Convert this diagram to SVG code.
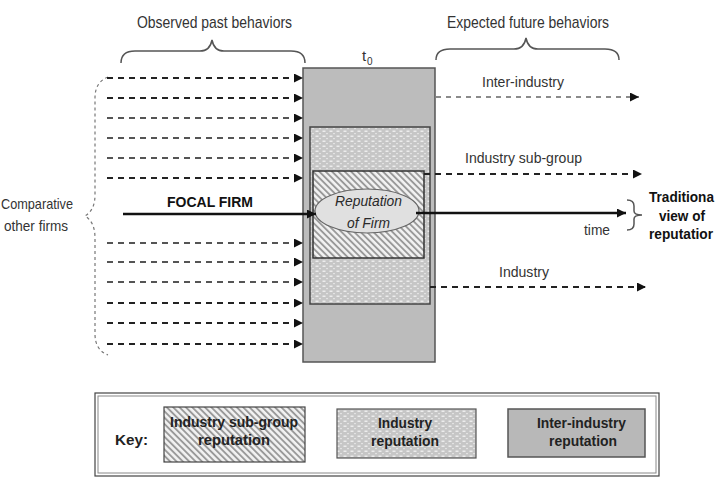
<svg xmlns="http://www.w3.org/2000/svg" width="724" height="478" viewBox="0 0 724 478">
<style>
text{font-family:"Liberation Sans",Arial,sans-serif;fill:#333}
.hdr{font-size:17px}
.lbl{font-size:15px}
.b{font-weight:bold;fill:#111}
.it{font-style:italic;font-size:15px;fill:#2a2a2a}
.key{font-size:15px;font-weight:bold;fill:#222}
.dk{stroke:#222;stroke-width:2;stroke-dasharray:6 5;fill:none}
.md{stroke:#555;stroke-width:1.8;stroke-dasharray:6 5;fill:none}
.lt{stroke:#666;stroke-width:1.5;stroke-dasharray:5 5;fill:none}
.brace{stroke:#555;stroke-width:1.5;fill:none}
</style>
<defs>
<marker id="ah" markerUnits="userSpaceOnUse" markerWidth="9" markerHeight="9" refX="9" refY="4.5" orient="auto">
<path d="M0,0 L9,4.5 L0,9 z" fill="#111"/>
</marker>
<pattern id="dots" patternUnits="userSpaceOnUse" width="7" height="5">
<rect width="7" height="5" fill="#c6c6c6"/>
<rect x="0.5" y="0.5" width="3" height="1.5" fill="#ececec"/>
<rect x="4" y="3" width="2" height="1.2" fill="#e2e2e2"/>
</pattern>
<pattern id="hatch" patternUnits="userSpaceOnUse" width="4.5" height="4.5" patternTransform="rotate(-45)">
<rect width="4.5" height="4.5" fill="#f2f2f2"/>
<line x1="1" y1="0" x2="1" y2="4.5" stroke="#959595" stroke-width="1.8"/>
</pattern>
</defs>

<g id="headers">
<text class="hdr" x="137" y="28" textLength="155" lengthAdjust="spacingAndGlyphs">Observed past behaviors</text>
<path class="brace" d="M121,63 Q121,51 135,51 L200,51 Q210,51 212,40 Q214,51 224,51 L291,51 Q305,51 305,63"/>
<text class="hdr" x="447" y="28" textLength="162" lengthAdjust="spacingAndGlyphs">Expected future behaviors</text>
<path class="brace" d="M436,60 Q436,49 450,49 L514,49 Q524,49 526,38 Q528,49 538,49 L605,49 Q619,49 619,60"/>
<text class="lbl" x="362" y="61">t</text>
<text x="367" y="65" style="font-size:10px">0</text>
</g>

<g id="inter-industry-box">
<rect x="303" y="68" width="132" height="294" fill="#bcbcbc" stroke="#555" stroke-width="1.5"/>
</g>
<g id="industry-box">
<rect x="310" y="127" width="120" height="177" fill="url(#dots)" stroke="#444" stroke-width="1.5"/>
</g>
<g id="subgroup-box">
<rect x="313" y="171" width="111" height="87" fill="url(#hatch)" stroke="#333" stroke-width="1.5"/>
</g>
<g id="reputation-of-firm">
<ellipse cx="367" cy="211" rx="52" ry="22" fill="#e0e0e0" stroke="#666" stroke-width="1.2"/>
<text class="it" x="335" y="206" textLength="67" lengthAdjust="spacingAndGlyphs">Reputation</text>
<text class="it" x="347" y="228" textLength="43" lengthAdjust="spacingAndGlyphs">of Firm</text>
</g>

<g id="connectors">
<path d="M108,77 Q95,82 95,98 L95,195 Q95,210 85,216 Q95,222 95,238 L95,334 Q95,350 108,355" fill="none" stroke="#777" stroke-width="1.2" stroke-dasharray="3 3"/>
<line class="dk" x1="107" y1="78" x2="303" y2="78" marker-end="url(#ah)"/>
<line class="dk" x1="107" y1="98" x2="303" y2="98" marker-end="url(#ah)"/>
<line class="md" x1="107" y1="118" x2="303" y2="118" marker-end="url(#ah)"/>
<line class="md" x1="107" y1="138" x2="303" y2="138" marker-end="url(#ah)"/>
<line class="md" x1="107" y1="158" x2="303" y2="158" marker-end="url(#ah)"/>
<line class="dk" x1="107" y1="178" x2="303" y2="178" marker-end="url(#ah)"/>
<line class="md" x1="107" y1="243" x2="303" y2="243" marker-end="url(#ah)"/>
<line class="md" x1="107" y1="262" x2="303" y2="262" marker-end="url(#ah)"/>
<line class="md" x1="107" y1="282" x2="303" y2="282" marker-end="url(#ah)"/>
<line class="dk" x1="107" y1="303" x2="303" y2="303" marker-end="url(#ah)"/>
<line class="dk" x1="107" y1="323" x2="303" y2="323" marker-end="url(#ah)"/>
<line class="dk" x1="107" y1="344" x2="303" y2="344" marker-end="url(#ah)"/>
<line x1="123" y1="214" x2="316" y2="214" stroke="#111" stroke-width="2.5" marker-end="url(#ah)"/>
<line x1="416" y1="213" x2="626" y2="213" stroke="#111" stroke-width="2.5" marker-end="url(#ah)"/>
<line class="lt" x1="436" y1="97" x2="639" y2="97" marker-end="url(#ah)"/>
<line class="dk" x1="424" y1="174" x2="642" y2="174" marker-end="url(#ah)"/>
<line class="dk" x1="430" y1="287" x2="646" y2="287" marker-end="url(#ah)"/>
<path class="brace" d="M627,200 Q634,200 634,206 L634,211 Q634,215 642,215 Q634,215 634,219 L634,224 Q634,230 627,230"/>
</g>

<g id="labels">
<text class="lbl" x="482" y="87" textLength="82" lengthAdjust="spacingAndGlyphs">Inter-industry</text>
<text class="lbl" x="465" y="163" textLength="117" lengthAdjust="spacingAndGlyphs">Industry sub-group</text>
<text class="lbl" x="499" y="277" textLength="50" lengthAdjust="spacingAndGlyphs">Industry</text>
<text class="lbl" x="584" y="235" textLength="26" lengthAdjust="spacingAndGlyphs">time</text>
<text class="lbl b" x="167" y="207" textLength="86" lengthAdjust="spacingAndGlyphs">FOCAL FIRM</text>
<text class="lbl" x="1" y="209" textLength="72" lengthAdjust="spacingAndGlyphs">Comparative</text>
<text class="lbl" x="4" y="231" textLength="64" lengthAdjust="spacingAndGlyphs">other firms</text>
<text class="lbl b" x="649" y="202" textLength="65" lengthAdjust="spacingAndGlyphs">Traditiona</text>
<text class="lbl b" x="659" y="221" textLength="46" lengthAdjust="spacingAndGlyphs">view of</text>
<text class="lbl b" x="649" y="239" textLength="64" lengthAdjust="spacingAndGlyphs">reputatior</text>
</g>

<g id="key">
<rect x="95" y="393" width="564" height="83" fill="#fff" stroke="#444" stroke-width="1.2"/>
<rect x="98" y="396" width="558" height="77" fill="none" stroke="#888" stroke-width="1"/>
<text class="key" x="115" y="445" textLength="33" lengthAdjust="spacingAndGlyphs">Key:</text>
<g id="key-subgroup">
<rect x="164" y="407" width="141" height="55" fill="url(#hatch)" stroke="#444" stroke-width="1.2"/>
<text class="key" x="170" y="427" textLength="128" lengthAdjust="spacingAndGlyphs">Industry sub-group</text>
<text class="key" x="198" y="445" textLength="72" lengthAdjust="spacingAndGlyphs">reputation</text>
</g>
<g id="key-industry">
<rect x="337" y="409" width="139" height="49" fill="url(#dots)" stroke="#555" stroke-width="1.2"/>
<text class="key" x="378" y="428" textLength="54" lengthAdjust="spacingAndGlyphs">Industry</text>
<text class="key" x="371" y="446" textLength="68" lengthAdjust="spacingAndGlyphs">reputation</text>
</g>
<g id="key-inter-industry">
<rect x="508" y="409" width="137" height="48" fill="#b8b8b8" stroke="#555" stroke-width="1.5"/>
<text class="key" x="537" y="428" textLength="89" lengthAdjust="spacingAndGlyphs">Inter-industry</text>
<text class="key" x="549" y="446" textLength="68" lengthAdjust="spacingAndGlyphs">reputation</text>
</g>
</g>
</svg>
